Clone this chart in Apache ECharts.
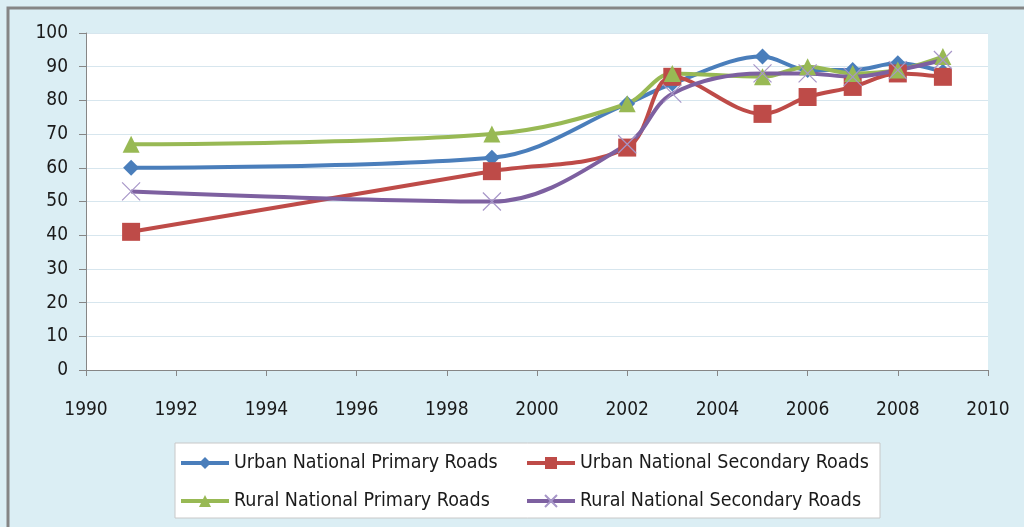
<!DOCTYPE html>
<html><head><meta charset="utf-8">
<script src="https://cdn.jsdelivr.net/npm/echarts@6/dist/echarts.min.js"></script>
<style>html,body{margin:0;padding:0;background:#dbeef4}#c{width:1024px;height:527px}</style>
</head><body><div id="c"></div>
<script>
const years = [1991, 1999, 2002, 2003, 2005, 2006, 2007, 2008, 2009];
const urbanPrimary = [60, 63, 79, 85, 93, 89, 89, 91, 88.5];
const urbanSecondary = [41, 59, 66, 87, 76, 81, 84, 88, 87];
const ruralPrimary = [67, 70, 79, 88, 87, 90, 88, 89, 93];
const ruralSecondary = [53, 50, 67, 82, 88, 88, 87, 89, 92];
const seriesNames = ['Urban National Primary Roads', 'Urban National Secondary Roads', 'Rural National Primary Roads', 'Rural National Secondary Roads'];
const colors = ['#4a7ebb', '#be4b48', '#98b954', '#7d60a0'];

const pairs = v => years.map((y, i) => [y, v[i]]);
const font = '"Liberation Sans Narrow","DejaVu Sans Condensed",sans-serif';
const chart = echarts.init(document.getElementById('c'));
const mk = (name, data, color, symbol, size, extra) => Object.assign({
  name, type: 'line', data: pairs(data), smooth: 0.35, symbol, symbolSize: size,
  lineStyle: { width: 4, color }, itemStyle: { color }
}, extra || {});
const legendText = { fontSize: 19.5, fontFamily: font, color: '#1a1a1a' };
const legendCommon = { orient: 'vertical', top: 448, itemGap: 18, itemWidth: 48, itemHeight: 15, textStyle: legendText, lineStyle: { width: 4 } };
chart.setOption({
  backgroundColor: '#dbeef4',
  animation: false,
  graphic: [
    { type: 'rect', shape: { x: 8, y: 8, width: 1030, height: 540 }, style: { fill: 'none', stroke: '#858585', lineWidth: 3 }, z: -1 },
    { type: 'rect', shape: { x: 175, y: 443, width: 705, height: 75 }, style: { fill: '#fff', stroke: '#c8c8c8', lineWidth: 1 }, z: 0 }
  ],
  grid: { left: 86, right: 36, top: 33, bottom: 157, show: true, backgroundColor: '#fff', borderWidth: 0 },
  xAxis: {
    type: 'value', min: 1990, max: 2010, interval: 2,
    axisLine: { lineStyle: { color: '#868686', width: 1 } },
    axisTick: { show: true, length: 6, lineStyle: { color: '#868686' } },
    splitLine: { show: false },
    axisLabel: { color: '#1a1a1a', fontSize: 19, fontFamily: font, margin: 31, formatter: v => String(v) }
  },
  yAxis: {
    type: 'value', min: 0, max: 100, interval: 10,
    axisLine: { show: true, lineStyle: { color: '#868686', width: 1 } },
    axisTick: { show: true, length: 7, lineStyle: { color: '#868686' } },
    splitLine: { lineStyle: { color: '#d7e6ee', width: 1 } },
    axisLabel: { color: '#1a1a1a', fontSize: 19, fontFamily: font, margin: 18 }
  },
  legend: [
    Object.assign({ data: [seriesNames[0], seriesNames[2]], left: 174 }, legendCommon),
    Object.assign({ data: [seriesNames[1], seriesNames[3]], left: 520 }, legendCommon)
  ],
  series: [
    mk(seriesNames[0], urbanPrimary, colors[0], 'diamond', 16),
    mk(seriesNames[1], urbanSecondary, colors[1], 'rect', 18),
    mk(seriesNames[2], ruralPrimary, colors[2], 'triangle', 17),
    mk(seriesNames[3], ruralSecondary, colors[3], 'path://M0,0L10,10M10,0L0,10', 18,
      { itemStyle: { color: 'rgba(0,0,0,0)', borderColor: '#a796c8', borderWidth: 1.2 } })
  ]
});
</script></body></html>
